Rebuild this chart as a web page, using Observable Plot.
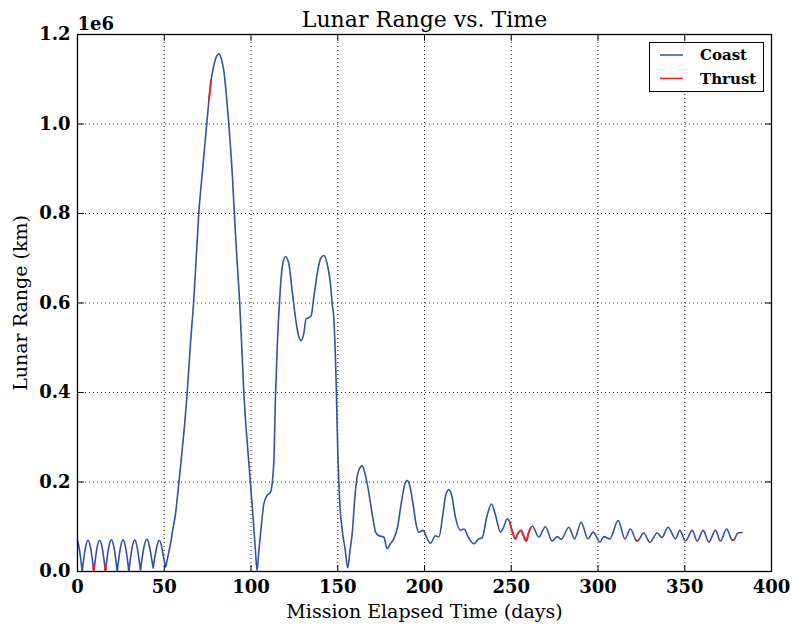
<!DOCTYPE html>
<html>
<head>
<meta charset="utf-8">
<script src="https://cdn.jsdelivr.net/npm/d3@7"></script>
<script src="https://cdn.jsdelivr.net/npm/@observablehq/plot@0.6"></script>
<style>
  html, body { margin: 0; padding: 0; background: #fff; }
  #wrap { position: relative; width: 793px; height: 627px; font-family: "DejaVu Serif", serif; }
  #legend { position: absolute; left: 649px; top: 42px; width: 113px; height: 48px; border: 1px solid #000; background: #fff; }
</style>
</head>
<body>
<div id="wrap"><div id="chart"></div><div id="legend"></div></div>
<script>
// ---- data ----
const titleText = "Lunar Range vs. Time";
const xLabel = "Mission Elapsed Time (days)";
const yLabel = "Lunar Range (km)";
const yExponent = "1e6";
const seriesNames = ["Coast", "Thrust"];
const seriesColors = ["#3650a2", "#ee2424"];

const xTicks = [0, 50, 100, 150, 200, 250, 300, 350, 400];
const yTicks = [0, 200000, 400000, 600000, 800000, 1000000, 1200000];

const coastDay = [
  0, 0.7, 1.6, 2.3, 2.7, 3.1, 3.8, 4.7, 6.05, 7.4, 8.3, 9.0, 9.4, 9.8, 10.5, 11.4, 12.75, 14.1, 15.0, 15.7,
  16.1, 16.5, 17.2, 18.1, 19.5, 20.9, 21.8, 22.5, 22.9, 23.3, 24.0, 24.9, 26.25, 27.6, 28.5, 29.2, 29.6, 30.0,
  30.7, 31.6, 32.95, 34.3, 35.2, 35.9, 36.3, 36.7, 37.5, 38.5, 39.95, 41.4, 42.4, 43.2, 43.6, 44.0, 44.8, 45.8,
  47.15, 48.5, 49.5, 50.3, 50.8, 51.5, 52.5, 53.6, 55.0, 56.5, 58.4, 60.3, 62.0, 63.2, 65.1, 67.0, 68.5, 69.9,
  71.9, 74.5, 75.7, 77.0, 78.5, 80.0, 81.4, 82.8, 84.3, 85.8, 87.2, 89.2, 90.4, 91.8, 93.4, 94.7, 95.9, 98.2,
  99.7, 101.2, 102.5, 103.5, 104.5, 105.5, 107.4, 109.3, 111.2, 113.1, 114.1, 115.1, 116.6, 118.0, 119.9, 121.8,
  123.7, 125.6, 127.6, 128.9, 130.4, 131.8, 133.3, 134.7, 136.2, 138.5, 140.2, 142.0, 144.3, 145.8, 146.8, 147.7,
  149.1, 150.0, 151.2, 152.6, 154.3, 155.8, 157.0, 158.3, 160.2, 162.0, 164.1, 165.5, 167.0, 170.8, 171.8, 173.7,
  176.5, 178.5, 180.3, 182.3, 184.5, 186.5, 188.5, 190.0, 191.5, 193.5, 195.2, 196.7, 199.2, 201.3, 203.4, 206.3,
  208.3, 210.5, 212.2, 214.0, 215.8, 217.8, 220.7, 222.7, 225.5, 228.4, 231.3, 233.2, 235.8, 238.6, 240.8, 243.8,
  245.7, 247.7, 249.0, 250.7, 252.4, 254.0, 255.7, 257.1, 258.6, 260.0, 261.1, 262.2, 265.9, 269.7, 273.6, 276.5,
  278.8, 283.2, 286.5, 290.3, 294.2, 297.2, 301.1, 303.4, 306.8, 311.6, 315.5, 318.7, 321.9, 322.6, 323.3, 326.4,
  329.9, 334.1, 336.8, 340.4, 344.7, 347.2, 350.4, 354.3, 357.2, 360.6, 363.9, 367.7, 370.6, 374.1, 377.2, 377.9,
  378.6, 380.6, 383.1
];
const coastKm = [
  70000, 58000, 36000, 14000, 0, 13000, 34000, 56000, 70000, 56000, 34000, 13000, 0, 13000, 34000, 56000, 70000, 56000, 34000, 13000,
  0, 13000, 34000, 56000, 71000, 56000, 34000, 13000, 0, 13000, 34000, 56000, 71000, 56000, 34000, 13000, 0, 13000,
  34000, 56000, 71000, 56000, 34000, 14000, 2000, 15000, 36000, 58000, 72000, 58000, 36000, 17000, 7000, 18000, 37000, 57000,
  70000, 56000, 34000, 18000, 10000, 22000, 41000, 62000, 95000, 129000, 197000, 270000, 340000, 398000, 509000, 606000, 705000, 800000,
  889000, 1000000, 1052000, 1097000, 1130000, 1150000, 1157000, 1147000, 1120000, 1065000, 1000000, 889000, 800000, 705000, 606000, 500000, 398000, 270000,
  197000, 121000, 50000, 2000, 45000, 84000, 151000, 170000, 177000, 241000, 390000, 501000, 613000, 680000, 704000, 688000,
  628000, 568000, 524000, 516000, 531000, 565000, 567000, 572000, 613000, 673000, 700000, 706000, 680000, 643000, 598000, 568000,
  419000, 270000, 151000, 92000, 48000, 8000, 45000, 84000, 181000, 225000, 236000, 222000, 196000, 107000, 88000, 80000,
  77000, 51000, 62000, 73000, 100000, 150000, 193000, 203000, 192000, 148000, 105000, 88000, 92000, 75000, 63000, 80000,
  77000, 125000, 170000, 183000, 168000, 122000, 92000, 95000, 75000, 62000, 73000, 75000, 120000, 151000, 128000, 88000,
  100000, 118000, 112000, 88000, 73000, 86000, 92000, 80000, 68000, 86000, 97000, 101000, 77000, 100000, 68000, 78000,
  72000, 99000, 73000, 110000, 73000, 88000, 66000, 78000, 73000, 114000, 73000, 95000, 70000, 68000, 70000, 86000,
  65000, 86000, 76000, 99000, 73000, 92000, 68000, 92000, 68000, 92000, 66000, 92000, 68000, 95000, 71000, 70000,
  72000, 86000, 87000
];
// thrust arcs (day intervals)
const thrustStart = [9.0, 15.7, 75.7, 249.0, 321.9, 377.2];
const thrustEnd   = [9.8, 16.5, 77.0, 261.1, 323.3, 378.6];

// ---- build ----
const coast = coastDay.map((d, i) => ({day: d, km: coastKm[i]}));
const thrust = [];
thrustStart.forEach((s, k) => {
  coast.forEach(p => { if (p.day >= s - 1e-9 && p.day <= thrustEnd[k] + 1e-9) thrust.push({...p, seg: k}); });
});

const tickShape = {draw(context, l) { context.moveTo(0, 0); context.lineTo(0, -l); }};
const font = "DejaVu Serif";
const TL = 6;

const chart = Plot.plot({
  width: 793, height: 627,
  marginLeft: 77, marginRight: 22, marginTop: 34, marginBottom: 56,
  x: {domain: [0, 400]},
  y: {domain: [0, 1200000]},
  style: {fontFamily: font, background: "white", color: "black", overflow: "visible"},
  marks: [
    Plot.gridX(xTicks, {stroke: "#000", strokeOpacity: 0.85, strokeDasharray: "1,3", strokeWidth: 1}),
    Plot.gridY(yTicks, {stroke: "#000", strokeOpacity: 0.85, strokeDasharray: "1,3", strokeWidth: 1}),
    Plot.line(coast, {x: "day", y: "km", stroke: seriesColors[0], strokeWidth: 1.6, curve: "monotone-x"}),
    Plot.line(thrust, {x: "day", y: "km", z: "seg", stroke: seriesColors[1], strokeWidth: 1.8, curve: "monotone-x"}),
    Plot.frame({stroke: "black", strokeWidth: 1.3}),
    Plot.vector(xTicks, {x: d => d, frameAnchor: "bottom", length: TL, rotate: 0, anchor: "start", shape: tickShape, stroke: "black", strokeWidth: 1}),
    Plot.vector(xTicks, {x: d => d, frameAnchor: "top", length: TL, rotate: 180, anchor: "start", shape: tickShape, stroke: "black", strokeWidth: 1}),
    Plot.vector(yTicks, {y: d => d, frameAnchor: "left", length: TL, rotate: 90, anchor: "start", shape: tickShape, stroke: "black", strokeWidth: 1}),
    Plot.vector(yTicks, {y: d => d, frameAnchor: "right", length: TL, rotate: -90, anchor: "start", shape: tickShape, stroke: "black", strokeWidth: 1}),
    Plot.axisX(xTicks, {tickSize: 0, tickPadding: 9, tickFormat: d => String(d), fontSize: 18, fontWeight: "bold", label: null, fill: "black"}),
    Plot.axisY(yTicks, {tickSize: 0, tickPadding: 7, tickFormat: d => (d / 1e6).toFixed(1), fontSize: 18, fontWeight: "bold", label: null, fill: "black"}),
    Plot.text([titleText], {frameAnchor: "top", dy: -15, lineAnchor: "middle", fontSize: 22, fill: "black"}),
    Plot.text([yExponent], {frameAnchor: "top-left", dy: -10, lineAnchor: "middle", textAnchor: "start", fontSize: 18, fontWeight: "bold", fill: "black"}),
    Plot.text([xLabel], {frameAnchor: "bottom", dy: 40, lineAnchor: "middle", fontSize: 19, fill: "black"}),
    Plot.text([yLabel], {frameAnchor: "left", dx: -57, rotate: -90, textAnchor: "middle", lineAnchor: "middle", fontSize: 19, fill: "black"})
  ]
});
document.getElementById("chart").appendChild(chart);

// legend
const lg = d3.select("#legend").append("svg").attr("width", 113).attr("height", 48);
seriesNames.forEach((name, i) => {
  const cy = 12 + i * 23.4;
  lg.append("line").attr("x1", 10).attr("x2", 33).attr("y1", cy).attr("y2", cy)
    .attr("stroke", seriesColors[i]).attr("stroke-width", 1.5);
  lg.append("text").attr("x", 50).attr("y", cy).attr("dy", "0.35em")
    .attr("font-family", font).attr("font-weight", "bold").attr("font-size", 15).text(name);
});
</script>
</body>
</html>
